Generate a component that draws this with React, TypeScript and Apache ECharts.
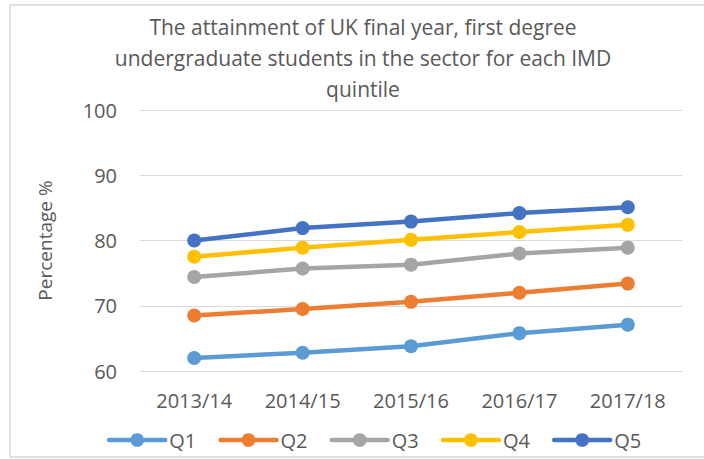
import React, { useEffect, useRef } from "react";
import * as echarts from "echarts";

const categories = ["2013/14", "2014/15", "2015/16", "2016/17", "2017/18"];
const seriesNames = ["Q1", "Q2", "Q3", "Q4", "Q5"];
const q1 = [62.0, 62.8, 63.8, 65.8, 67.1];
const q2 = [68.5, 69.5, 70.6, 72.0, 73.4];
const q3 = [74.4, 75.7, 76.3, 78.0, 78.9];
const q4 = [77.5, 78.9, 80.1, 81.3, 82.4];
const q5 = [80.0, 81.9, 82.9, 84.2, 85.1];
const seriesValues = [q1, q2, q3, q4, q5];
const colors = ["#5B9BD5", "#ED7D31", "#A5A5A5", "#FFC000", "#4472C4"];
const titleText =
  "The attainment of UK final year, first degree\nundergraduate students in the sector for each IMD\nquintile";
const yAxisName = "Percentage %";

const FONT = "'Open Sans', sans-serif";
const TEXT = "#595959";

export default function App() {
  const ref = useRef<HTMLDivElement>(null);
  useEffect(() => {
    if (!ref.current) return;
    const chart = echarts.init(ref.current, null, { renderer: "svg" });
    chart.setOption({
      animation: false,
      backgroundColor: "#ffffff",
      color: colors,
      textStyle: { fontFamily: FONT },
      title: {
        text: titleText,
        left: 363,
        textAlign: "center",
        top: 11,
        padding: 0,
        textStyle: {
          fontFamily: FONT,
          fontSize: 21,
          fontWeight: "normal",
          color: TEXT,
          lineHeight: 31,
        },
      },
      graphic: [
        {
          type: "rect",
          shape: { x: 10, y: 5, width: 720, height: 452 },
          style: { fill: "none", stroke: "#d9d9d9", lineWidth: 1.5 },
          silent: true,
        },
      ],
      legend: {
        data: seriesNames,
        left: 107,
        top: 430,
        padding: 0,
        itemWidth: 56,
        itemHeight: 17,
        itemGap: 22,
        lineStyle: { width: 4.5 },
        textStyle: { fontFamily: FONT, fontSize: 20, color: TEXT, padding: [0, 0, 0, -1] },
      },
      grid: { left: 140, right: 22, top: 110, bottom: 88, containLabel: false },
      xAxis: {
        type: "category",
        data: categories,
        boundaryGap: true,
        axisLine: { show: true, lineStyle: { color: "#d9d9d9", width: 1 } },
        axisTick: { show: false },
        axisLabel: { fontFamily: FONT, fontSize: 20, color: TEXT, margin: 19 },
      },
      yAxis: {
        type: "value",
        min: 60,
        max: 100,
        interval: 10,
        name: yAxisName,
        nameLocation: "middle",
        nameGap: 86,
        nameRotate: 90,
        nameTextStyle: { fontFamily: FONT, fontSize: 19, color: TEXT },
        axisLine: { show: false },
        axisTick: { show: false },
        splitLine: { lineStyle: { color: "#d9d9d9", width: 1 } },
        axisLabel: { fontFamily: FONT, fontSize: 20, color: TEXT, margin: 23 },
      },
      series: seriesNames.map((name, i) => ({
        name,
        type: "line",
        data: seriesValues[i],
        symbol: "circle",
        symbolSize: 14,
        lineStyle: { width: 4.5, color: colors[i], cap: "round" },
        itemStyle: { color: colors[i] },
      })),
    });
    return () => chart.dispose();
  }, []);
  return (
    <div
      ref={ref}
      style={{ position: "absolute", left: 0, top: 0, width: 704, height: 459 }}
    />
  );
}
